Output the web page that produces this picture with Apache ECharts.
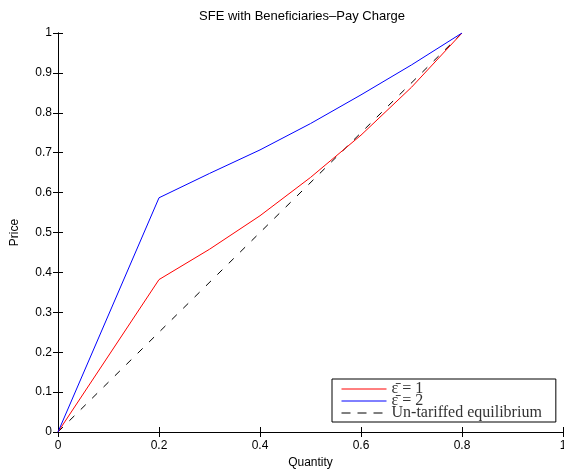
<!DOCTYPE html>
<html>
<head>
<meta charset="utf-8">
<script src="https://cdn.jsdelivr.net/npm/echarts@6/dist/echarts.min.js"></script>
<style>
html,body{margin:0;padding:0;background:#fff;}
#chart{width:564px;height:471px;}
</style>
</head>
<body>
<div id="chart"></div>
<script>
// Data
const quantity = [0, 0.2, 0.3, 0.4, 0.5, 0.6, 0.7, 0.8];
const priceEps1 = [0, 0.382, 0.458, 0.542, 0.638, 0.744, 0.864, 1.0];
const priceEps2 = [0, 0.587, 0.648, 0.707, 0.773, 0.845, 0.920, 1.0];
const untariffedQ = [0, 0.8];
const untariffedP = [0, 1.0];
const seriesNames = ['\u03b5\u0304 = 1', '\u03b5\u0304 = 2', 'Un-tariffed equilibrium'];
const titleText = 'SFE with Beneficiaries\u2013Pay Charge';

const pairs = (xs, ys) => xs.map((x, i) => [x, ys[i]]);
const font = 'Liberation Sans, Arial, Helvetica, sans-serif';

const chart = echarts.init(document.getElementById('chart'), null, {renderer: 'canvas'});
const baseAxisLine = {show: true, lineStyle: {color: '#000', width: 1}};
const tick = {show: true, inside: true, length: 5, lineStyle: {color: '#000', width: 1}};
chart.setOption({
  animation: false,
  backgroundColor: '#fff',
  title: {
    text: titleText,
    left: 297, top: 5, textAlign: 'center',
    textStyle: {fontFamily: font, fontSize: 13, fontWeight: 'normal', color: '#000'}
  },
  grid: {left: 58, right: 1, top: 33, bottom: 39, containLabel: false, outerBoundsMode: 'none'},
  legend: {
    orient: 'vertical', left: 332, top: 379,
    data: [
      {name: seriesNames[0]},
      {name: seriesNames[1]},
      {name: seriesNames[2], lineStyle: {type: [9, 7]}}
    ],
    itemWidth: 45, itemHeight: 12, itemGap: -4,
    padding: [2, 14, 1, 9],
    borderColor: '#000', borderWidth: 1, backgroundColor: '#fff',
    selectedMode: false,
    lineStyle: {width: 1},
    itemStyle: {color: 'rgba(0,0,0,0)', borderWidth: 0, opacity: 0},
    textStyle: {fontFamily: 'Liberation Serif, DejaVu Serif, serif', fontSize: 16, color: '#333', lineHeight: 12}
  },
  xAxis: [{
    type: 'value', min: 0, max: 1, interval: 0.2, position: 'bottom',
    name: 'Quantity', nameLocation: 'middle', nameGap: 25,
    nameTextStyle: {fontFamily: font, fontSize: 12, color: '#000'},
    axisLine: baseAxisLine, axisTick: tick,
    axisLabel: {fontFamily: font, fontSize: 12, color: '#000', margin: 8},
    splitLine: {show: false}
  }, {
    type: 'value', min: 0, max: 1, interval: 0.2, position: 'top',
    axisLine: baseAxisLine, axisTick: tick, axisLabel: {show: false}, splitLine: {show: false}
  }],
  yAxis: [{
    type: 'value', min: 0, max: 1, interval: 0.1, position: 'left',
    name: 'Price', nameLocation: 'middle', nameGap: 37, nameRotate: 90,
    nameTextStyle: {fontFamily: font, fontSize: 12, color: '#000'},
    axisLine: baseAxisLine, axisTick: tick,
    axisLabel: {fontFamily: font, fontSize: 12, color: '#000', margin: 6},
    splitLine: {show: false}
  }, {
    type: 'value', min: 0, max: 1, interval: 0.1, position: 'right',
    axisLine: baseAxisLine, axisTick: tick, axisLabel: {show: false}, splitLine: {show: false}
  }],
  series: [{
    name: seriesNames[0], type: 'line', symbol: 'none', smooth: false,
    data: pairs(quantity, priceEps1), z: 3,
    lineStyle: {color: '#ff0000', width: 1}, itemStyle: {color: '#ff0000'}
  }, {
    name: seriesNames[1], type: 'line', symbol: 'none', smooth: false,
    data: pairs(quantity, priceEps2), z: 3,
    lineStyle: {color: '#0000ff', width: 1}, itemStyle: {color: '#0000ff'}
  }, {
    name: seriesNames[2], type: 'line', symbol: 'none',
    data: pairs(untariffedQ, untariffedP), z: 2,
    lineStyle: {color: '#000', width: 1, type: [7, 9]}, itemStyle: {color: '#000'}
  }]
});
</script>
</body>
</html>
